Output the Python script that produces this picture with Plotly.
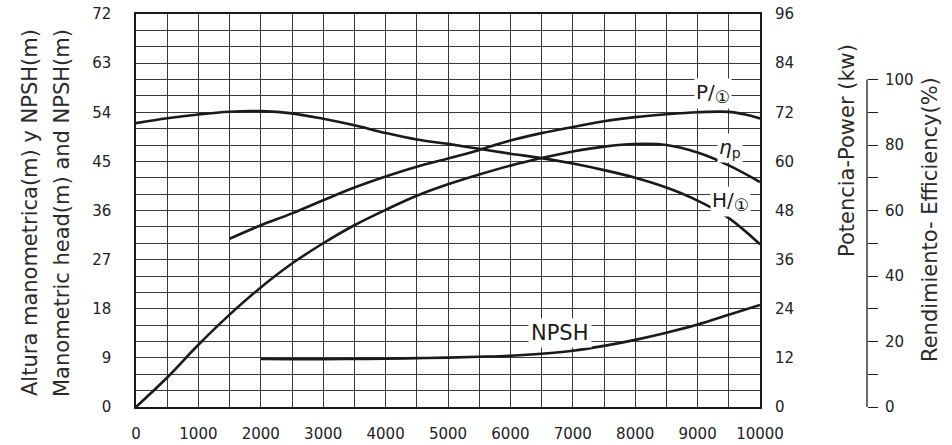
import plotly.graph_objects as go

# Flow (x axis)
q_h = [0, 500, 1000, 1500, 2000, 2500, 3000, 3500, 4000, 4500, 5000, 5500, 6000, 6500, 7000, 7500, 8000, 8500, 9000, 9500, 10000]
head_m = [52.0, 52.9, 53.6, 54.1, 54.2, 53.8, 52.8, 51.6, 50.2, 49.0, 48.2, 47.3, 46.4, 45.6, 44.6, 43.4, 42.0, 40.2, 37.8, 34.6, 29.8]

q_p = [1500, 2000, 2500, 3000, 3500, 4000, 4500, 5000, 5500, 6000, 6500, 7000, 7500, 8000, 8500, 9000, 9500, 9750, 10000]
power_kw = [41.1, 44.4, 47.3, 50.5, 53.6, 56.3, 58.7, 60.7, 62.8, 65.1, 66.9, 68.4, 69.8, 70.8, 71.5, 72.0, 72.1, 71.5, 70.5]

q_eff = [0, 500, 1000, 1500, 2000, 2500, 3000, 3500, 4000, 4500, 5000, 5500, 6000, 6500, 7000, 7500, 8000, 8500, 9000, 9500, 10000]
eff_pct = [0, 9.0, 19.0, 28.2, 36.5, 43.8, 50.0, 55.5, 60.2, 64.5, 68.0, 71.0, 73.7, 76.0, 78.0, 79.5, 80.3, 80.0, 77.7, 73.8, 68.7]

q_npsh = [2000, 2500, 3000, 3500, 4000, 4500, 5000, 5500, 6000, 6500, 7000, 7500, 8000, 8500, 9000, 9500, 10000]
npsh_m = [8.8, 8.75, 8.75, 8.8, 8.85, 8.95, 9.05, 9.2, 9.4, 9.75, 10.3, 11.2, 12.3, 13.6, 15.1, 16.9, 18.7]

x_ticks = [0, 1000, 2000, 3000, 4000, 5000, 6000, 7000, 8000, 9000, 10000]
x_ticktext = ["0", "1000", "2000", "3000", "4000", "5000", "6000", "7000", "8000", "9000", "10000"]
left_ticks = [0, 9, 18, 27, 36, 45, 54, 63, 72]
right_ticks = [0, 12, 24, 36, 48, 60, 72, 84, 96]
eff_ticks = [0, 10, 20, 30, 40, 50, 60, 70, 80, 90, 100]
eff_ticktext = ["0", "", "20", "", "40", "", "60", "", "80", "", "100"]

W, H = 952, 445
ML, MR, MT, MB = 136, 10, 14, 38
PW = W - ML - MR
PH = H - MT - MB
def xp(px):
    return (px - ML) / PW
def yp(py):
    return (H - MB - py) / PH

FONT = "DejaVu Sans"
INK = "#1a1a1a"
GRID = "#3a3a3a"
LW = 2.6

fig = go.Figure()
fig.add_trace(go.Scatter(x=q_h, y=head_m, mode="lines", line=dict(color=INK, width=LW, shape="spline"), yaxis="y", showlegend=False))
fig.add_trace(go.Scatter(x=q_npsh, y=npsh_m, mode="lines", line=dict(color=INK, width=LW, shape="spline"), yaxis="y", showlegend=False))
fig.add_trace(go.Scatter(x=q_p, y=power_kw, mode="lines", line=dict(color=INK, width=LW, shape="spline"), yaxis="y2", showlegend=False))
fig.add_trace(go.Scatter(x=q_eff, y=eff_pct, mode="lines", line=dict(color=INK, width=LW, shape="spline"), yaxis="y3", showlegend=False))

tickfont = dict(family=FONT, size=15, color="#222")

fig.update_layout(
    width=W, height=H,
    margin=dict(l=ML, r=MR, t=MT, b=MB, autoexpand=False),
    paper_bgcolor="white", plot_bgcolor="white",
    xaxis=dict(domain=[0, xp(760)], range=[0, 10000], tickvals=x_ticks, ticktext=x_ticktext, ticks="",
               showgrid=True, gridcolor=GRID, gridwidth=1.2,
               minor=dict(dtick=500, showgrid=True, gridcolor=GRID, gridwidth=1.2),
               showline=True, linecolor=INK, linewidth=1.5, mirror=True, automargin=False,
               zeroline=False, tickfont=tickfont, ticklabelstandoff=12),
    yaxis=dict(range=[0, 72], tickvals=left_ticks, ticks="",
               showgrid=True, gridcolor=GRID, gridwidth=1.2,
               minor=dict(dtick=3, showgrid=True, gridcolor=GRID, gridwidth=1.2),
               showline=True, linecolor=INK, linewidth=1.5, mirror=True, automargin=False,
               zeroline=False, tickfont=tickfont, ticklabelstandoff=20),
    yaxis2=dict(range=[0, 96], tickvals=right_ticks, ticks="", overlaying="y", side="right",
                anchor="x", showgrid=False, zeroline=False, tickfont=tickfont, ticklabelstandoff=14,
                automargin=False),
    yaxis3=dict(range=[0, 120], tickvals=eff_ticks, ticktext=eff_ticktext, overlaying="y",
                side="right", anchor="free", position=xp(867), ticks="outside", ticklen=10,
                tickwidth=1.3, tickcolor=INK, showgrid=False, zeroline=False, showline=False,
                tickfont=tickfont, ticklabelstandoff=4, automargin=False),
)

# efficiency axis spine (0..100 %)
fig.add_shape(type="line", xref="paper", yref="y3", x0=xp(867), x1=xp(867), y0=0, y1=100,
              line=dict(color=INK, width=1.3))

titlefont = dict(family=FONT, size=21, color="#2a2a2a")
fig.add_annotation(x=xp(30), y=yp(213), xref="paper", yref="paper", text="Altura manometrica(m) y NPSH(m)",
                   textangle=-90, showarrow=False, font=titlefont, xanchor="center", yanchor="middle")
fig.add_annotation(x=xp(62), y=yp(213), xref="paper", yref="paper", text="Manometric head(m) and NPSH(m)",
                   textangle=-90, showarrow=False, font=titlefont, xanchor="center", yanchor="middle")
fig.add_annotation(x=xp(847), y=yp(151), xref="paper", yref="paper", text="Potencia-Power (kw)",
                   textangle=-90, showarrow=False, font=titlefont, xanchor="center", yanchor="middle")
fig.add_annotation(x=xp(930), y=yp(220), xref="paper", yref="paper", text="Rendimiento- Efficiency(%)",
                   textangle=-90, showarrow=False, font=titlefont, xanchor="center", yanchor="middle")

labfont = dict(family=FONT, size=20, color=INK)
circ = "<sub><span style='font-size:17px'>①</span></sub>"
fig.add_annotation(x=9250, y=57.4, xref="x", yref="y", text="P/" + circ, showarrow=False,
                   font=labfont, bgcolor="white", borderpad=1)
fig.add_annotation(x=9520, y=47.5, xref="x", yref="y", text="<i>η</i><sub>p</sub>", showarrow=False,
                   font=labfont, bgcolor="white", borderpad=1)
fig.add_annotation(x=9520, y=37.6, xref="x", yref="y", text="H/" + circ, showarrow=False,
                   font=labfont, bgcolor="white", borderpad=1)
fig.add_annotation(x=6800, y=13.6, xref="x", yref="y", text="NPSH", showarrow=False,
                   font=dict(family=FONT, size=21, color=INK), bgcolor="white", borderpad=2)

fig.write_html("out.html", config={"displayModeBar": False},
               post_script="document.body.style.margin='0';document.body.style.overflow='hidden';")
